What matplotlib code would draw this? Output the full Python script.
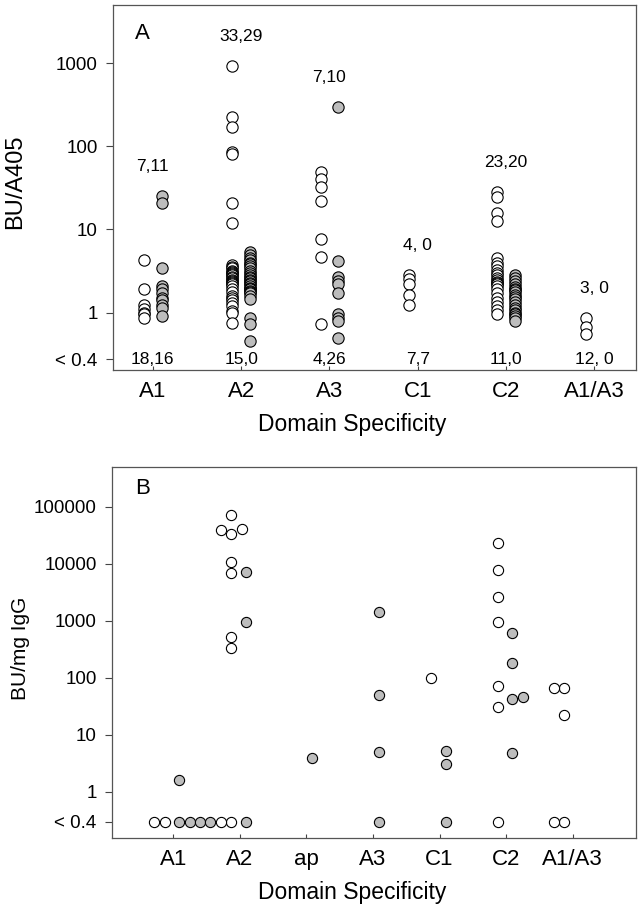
import math

import numpy as np
import matplotlib

matplotlib.use("Agg")
import matplotlib.pyplot as plt
from matplotlib.ticker import NullLocator

plt.rcParams["font.family"] = ["Liberation Sans", "DejaVu Sans"]

# ---- panel A: BU/A405 by domain (open = first cohort, grey = second cohort)
cats_a = ["A1", "A2", "A3", "C1", "C2", "A1/A3"]
open_a = [
    [4.3, 1.95, 1.25, 1.1, 1.0, 0.95, 0.85],
    [920, 224, 170, 85, 80, 21, 12.1,
     3.7, 3.5, 3.4, 3.2, 3.1, 3.0, 2.9, 2.8, 2.7, 2.6, 2.5, 2.4, 2.35, 2.3, 2.2, 2.1,
     1.9, 1.75, 1.6, 1.5, 1.4, 1.3, 1.2, 1.05, 1.0, 0.76],
    [49, 41, 32, 22, 7.6, 4.7, 0.74],
    [2.8, 2.57, 2.24, 1.65, 1.25],
    [27.9, 24.4, 15.6, 12.8,
     4.6, 4.0, 3.6, 3.3, 3.0, 2.8, 2.6, 2.45, 2.35, 2.3, 2.2, 2.1, 1.9, 1.7, 1.5,
     1.35, 1.2, 1.08, 0.97],
    [0.85, 0.68, 0.56],
]
grey_a = [
    [25, 21, 3.4, 2.1, 1.9, 1.7, 1.5, 1.4, 1.25, 1.15, 0.92],
    [5.3, 5.0, 4.6, 4.3, 4.0, 3.8, 3.6, 3.4, 3.2, 3.0, 2.85, 2.7, 2.6, 2.5, 2.4,
     2.3, 2.2, 2.1, 2.0, 1.95, 1.9, 1.8, 1.75, 1.7, 1.6, 1.45, 0.87, 0.74, 0.46],
    [295, 4.2, 2.7, 2.4, 2.2, 1.7, 0.97, 0.87, 0.8, 0.5],
    [],
    [2.8, 2.6, 2.4, 2.2, 2.05, 1.95, 1.85, 1.75, 1.65, 1.55, 1.45, 1.35, 1.25,
     1.15, 1.08, 1.0, 0.95, 0.9, 0.85, 0.8],
    [],
]
counts_above_a = ["7,11", "33,29", "7,10", "4, 0", "23,20", "3, 0"]
counts_below_a = ["18,16", "15,0", "4,26", "7,7", "11,0", "12, 0"]
yticks_a = [1, 10, 100, 1000]

# ---- panel B: BU/mg IgG by domain, 0 means "< 0.4"
cats_b = ["A1", "A2", "ap", "A3", "C1", "C2", "A1/A3"]
open_b = [
    [0, 0],
    [72000, 34000, 40000, 41000, 11000, 7000, 520, 340, 0, 0],
    [],
    [],
    [100],
    [23000, 7800, 2600, 960, 72, 31, 0],
    [67, 66, 22, 0, 0],
]
grey_b = [
    [0, 0, 0, 0, 1.6],
    [7200, 950, 0],
    [4.0],
    [1440, 50, 5.0, 0],
    [5.2, 3.1, 0],
    [610, 182, 42, 47, 4.8],
    [],
]
yticks_b = [1, 10, 100, 1000, 10000, 100000]

W, H = 642, 913
GREY = "#bdbdbd"
FLOOR_A = 10 ** -0.56
FLOOR_B = 10 ** -0.526


def style_axes(ax, ticks, floor, ylim, xlim, cats):
    ax.set_yscale("log")
    ax.set_ylim(*ylim)
    ax.set_xlim(*xlim)
    ax.yaxis.set_minor_locator(NullLocator())
    ax.set_yticks([floor] + ticks)
    ax.set_yticklabels(["< 0.4"] + [str(t) for t in ticks])
    ax.set_xticks(np.arange(1, len(cats) + 1))
    ax.set_xticklabels(cats)
    ax.tick_params(axis="y", direction="out", length=5, width=0.8,
                   pad=6, labelsize=13.5, color="#444")
    ax.tick_params(axis="x", direction="in", length=3, width=0.8,
                   pad=8, labelsize=16, color="#444")
    for sp in ax.spines.values():
        sp.set_color("#555")
        sp.set_linewidth(0.9)


def swarm(ax, x0, values, placed, first, diam):
    # greedy beeswarm in pixel space, so tied values sit side by side
    step = diam / 3.0
    order = [0]
    for k in range(1, 60):
        order += [first * k, -first * k]
    inv = ax.transData.inverted()
    xs = []
    for v in values:
        px, py = ax.transData.transform((x0, v))
        cand = px
        for k in order:
            cand = px + k * step
            if all(math.hypot(cand - qx, py - qy) >= 0.9 * diam for qx, qy in placed):
                break
        placed.append((cand, py))
        xs.append(inv.transform((cand, py))[0])
    return xs


fig = plt.figure(figsize=(W / 100, H / 100), dpi=100)

# panel A
ax_a = fig.add_axes([113 / W, 1 - 370 / H, 523 / W, 365 / H])
style_axes(ax_a, yticks_a, FLOOR_A, (10 ** -0.69, 10 ** 3.70), (0.55, 6.47), cats_a)
for i, cat in enumerate(cats_a):
    x = i + 1
    if open_a[i]:
        ax_a.scatter(np.full(len(open_a[i]), x - 0.1), open_a[i], s=66,
                     facecolor="white", edgecolor="black", linewidth=0.8, zorder=3)
    if grey_a[i]:
        ax_a.scatter(np.full(len(grey_a[i]), x + 0.1), grey_a[i], s=66,
                     facecolor=GREY, edgecolor="black", linewidth=0.8, zorder=3)
    top = max(open_a[i] + grey_a[i])
    ax_a.text(x, top * 2.3, counts_above_a[i], ha="center", va="center", fontsize=12.5)
    ax_a.text(x, FLOOR_A, counts_below_a[i], ha="center", va="center", fontsize=12.5)
ax_a.text(0.057, 0.923, "A", transform=ax_a.transAxes, ha="center", va="center",
          fontsize=16)

# panel B
ax_b = fig.add_axes([112 / W, 1 - 838 / H, 524 / W, 371 / H])
style_axes(ax_b, yticks_b, FLOOR_B, (10 ** -0.807, 10 ** 5.70), (0.08, 7.95), cats_b)
diam_b = 10.4
for i, cat in enumerate(cats_b):
    x = i + 1
    placed = []
    ov = [v if v > 0 else FLOOR_B for v in open_b[i]]
    gv = [v if v > 0 else FLOOR_B for v in grey_b[i]]
    if ov:
        ox = swarm(ax_b, x - 0.13, ov, placed, -1, diam_b)
        ax_b.scatter(ox, ov, s=54, facecolor="white", edgecolor="black",
                     linewidth=0.8, zorder=3, clip_on=False)
    if gv:
        gx = swarm(ax_b, x + 0.09, gv, placed, 1, diam_b)
        ax_b.scatter(gx, gv, s=54, facecolor=GREY, edgecolor="black",
                     linewidth=0.8, zorder=3, clip_on=False)
ax_b.text(0.059, 0.943, "B", transform=ax_b.transAxes, ha="center", va="center",
          fontsize=16)

# axis titles
fig.text(15 / W, 1 - 182 / H, "BU/A405", rotation=90, ha="center", va="center",
         fontsize=17)
fig.text(352 / W, 1 - 424 / H, "Domain Specificity", ha="center", va="center",
         fontsize=16.5)
fig.text(21 / W, 1 - 648 / H, "BU/mg IgG", rotation=90, ha="center", va="center",
         fontsize=15)
fig.text(352 / W, 1 - 892 / H, "Domain Specificity", ha="center", va="center",
         fontsize=16.5)

fig.savefig("out.png", dpi=100)
